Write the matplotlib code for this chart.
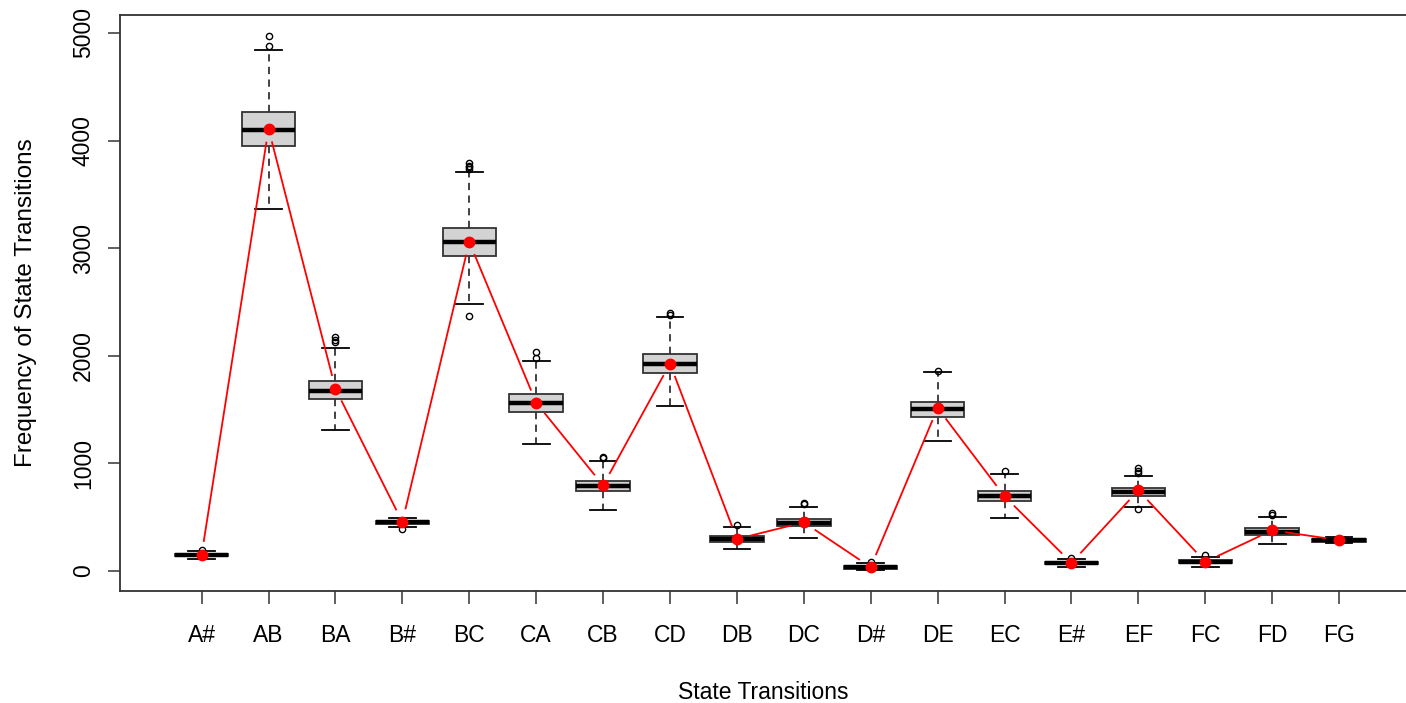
import numpy as np
import matplotlib
matplotlib.use("Agg")
import matplotlib.pyplot as plt

categories = ["A#", "AB", "BA", "B#", "BC", "CA", "CB", "CD", "DB", "DC",
              "D#", "DE", "EC", "E#", "EF", "FC", "FD", "FG"]
whislo = [111, 3367, 1313, 412, 2484, 1183, 567, 1536, 202, 310,
          5, 1211, 490, 37, 595, 37, 248, 258]
q1 = [135, 3946, 1596, 440, 2925, 1478, 743, 1840, 272, 415,
      22, 1434, 648, 62, 700, 70, 335, 272]
medians = [148, 4095, 1676, 452, 3055, 1561, 793, 1924, 296, 449,
           34, 1503, 694, 74, 734, 84, 366, 285]
q3 = [158, 4265, 1766, 465, 3188, 1645, 836, 2014, 325, 480,
      48, 1574, 743, 88, 771, 100, 400, 298]
whishi = [183, 4842, 2070, 495, 3711, 1952, 1022, 2360, 409, 595,
          72, 1847, 904, 108, 883, 130, 502, 312]
fliers = [[192], [4876, 4968], [2130, 2150, 2172], [390],
          [3735, 3750, 3765, 3789, 2373], [1982, 2038], [1050, 1062],
          [2380, 2400], [430], [618, 635], [85], [1855], [932], [118],
          [910, 930, 955, 576], [149], [520, 536], []]
means = [150, 4110, 1694, 455, 3058, 1564, 795, 1927, 297, 452,
         35, 1515, 694, 75, 750, 85, 378, 287]

plt.rcParams['font.family'] = ['Liberation Sans', 'DejaVu Sans']

fig = plt.figure(figsize=(14.06, 7.03), dpi=100)
ax = fig.add_axes([120/1406, 1 - 591/703, 1 - 120/1406, (591 - 15)/703])

positions = np.arange(1, len(categories) + 1)
stats = []
for i, c in enumerate(categories):
    stats.append(dict(label=c, whislo=whislo[i], q1=q1[i], med=medians[i],
                      q3=q3[i], whishi=whishi[i], fliers=fliers[i]))

edge = "#333333"
ax.bxp(stats, positions=positions, widths=0.8, patch_artist=True,
       showfliers=True,
       boxprops=dict(facecolor="#D3D3D3", edgecolor=edge, linewidth=1.3),
       medianprops=dict(color="black", linewidth=3.2, solid_capstyle="butt"),
       whiskerprops=dict(color=edge, linewidth=1.3, linestyle=(0, (4, 3))),
       capprops=dict(color="black", linewidth=1.3),
       capwidths=0.4,
       flierprops=dict(marker="o", markersize=4.5, markerfacecolor="none",
                       markeredgecolor="black", markeredgewidth=1.0))

ax.set_xlim(-0.22, 19.0)
ax.set_ylim(-186, 5167)

# red line with gaps around points (R type="b")
fig.canvas.draw()
pts = ax.transData.transform(np.column_stack([positions, means]))
inv = ax.transData.inverted()
gap = 14.0
for i in range(len(pts) - 1):
    p0, p1 = pts[i], pts[i + 1]
    d = p1 - p0
    L = np.hypot(*d)
    if L <= 2 * gap:
        continue
    u = d / L
    a = inv.transform(p0 + u * gap)
    b = inv.transform(p1 - u * gap)
    ax.plot([a[0], b[0]], [a[1], b[1]], color="red", linewidth=1.3, zorder=4)
ax.plot(positions, means, linestyle="none", marker="o", markersize=7.5,
        color="red", zorder=5)

ax.set_xticks(positions)
ax.set_xticklabels(categories, fontsize=16.5)
ax.set_yticks([0, 1000, 2000, 3000, 4000, 5000])
ax.set_yticklabels(["0", "1000", "2000", "3000", "4000", "5000"], fontsize=16.5,
                   rotation=90, va="center")
ax.tick_params(axis="both", length=9, width=1.1, color="#333333")
ax.tick_params(axis="x", pad=15)
ax.tick_params(axis="y", pad=9)
ax.set_xlabel("State Transitions", fontsize=16.5, labelpad=24)
ax.set_ylabel("Frequency of State Transitions", fontsize=17.5, labelpad=25)

for s in ["left", "bottom", "top"]:
    ax.spines[s].set_color("#333333")
    ax.spines[s].set_linewidth(1.3)
ax.spines["right"].set_visible(False)

fig.savefig("out.png", dpi=100)
